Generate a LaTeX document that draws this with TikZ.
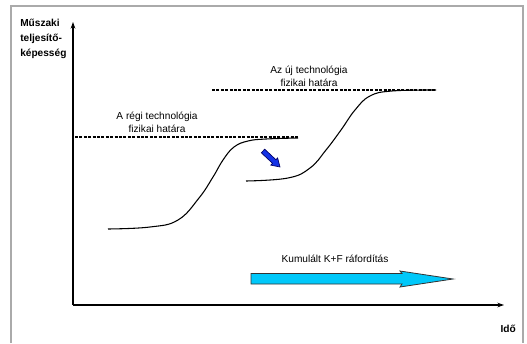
\documentclass[tikz,border=0pt]{standalone}
\usepackage{fontspec}
\setmainfont{Liberation Sans}
\usetikzlibrary{arrows.meta}
\definecolor{framegray}{RGB}{170,170,170}
\definecolor{kfcyan}{RGB}{0,200,250}
\definecolor{shiftblue}{RGB}{20,50,230}
\tikzset{
  lbl/.style={align=center, inner sep=0pt, font=\fontsize{7.6}{9.75}\selectfont},
  axlbl/.style={align=left, inner sep=0pt, font=\bfseries\fontsize{7.6}{11.25}\selectfont},
  axis/.style={line width=1.4pt, -{Stealth[length=5pt, width=3.5pt]}},
  limit/.style={line width=1pt, dash pattern=on 2.2pt off 1.1pt},
  scurve/.style={line width=0.8pt, smooth, tension=0.7}
}
\begin{document}
\begin{tikzpicture}[x=0.75pt, y=-0.75pt]
    \useasboundingbox (0,0) rectangle (527,343);
    % Frame
    \draw[framegray, line width=1.2pt] (11,343) -- (11,6) -- (523,6) -- (523,343);

    % Axes
    \coordinate (origin) at (73,305);
    \coordinate (ytip) at (73,22);
    \coordinate (xtip) at (504,305);
    \draw[axis] (origin) -- (ytip);
    \draw[axis] (origin) -- (xtip);
    \node[axlbl, anchor=north west] (ylab) at (20,19) {Műszaki\\teljesítő-\\képesség};
    \node[axlbl, anchor=east] (xlab) at (516,329) {Idő};

    % Physical limits
    \coordinate (oldA) at (75,137);
    \coordinate (oldB) at (298,137);
    \coordinate (newA) at (212,90);
    \coordinate (newB) at (436,90);
    \draw[limit] (oldA) -- (oldB);
    \draw[limit] (newA) -- (newB);
    \node[lbl] (oldlim) at (157,122) {A régi technológia\\fizikai határa};
    \node[lbl] (newlim) at (309,76) {Az új technológia\\fizikai határa};

    % S-curves
    \draw[scurve] plot coordinates {(108,229) (150,227) (178,220) (199,198) (213,177) (223,160) (234,147) (248,141) (266,139) (298,138)};
    \draw[scurve] plot coordinates {(246,181) (288,178) (310,168) (326,150) (341,130) (355,110) (370,96) (392,91) (436,90)};

    % Shift to the new technology
    \filldraw[fill=shiftblue, draw=blue!40!black, line width=0.5pt]
      (264.7,149.2) -- (275.9,159.7) -- (277.6,157.9) -- (280,167)
      -- (270.8,165.1) -- (272.5,163.3) -- (261.3,152.8) -- cycle;

    % Cumulated R&D effort
    \filldraw[fill=kfcyan, draw=black!80, line width=0.6pt]
      (251,273.5) -- (402,273.5) -- (400,271) -- (453,279)
      -- (400,287) -- (402,284) -- (251,284) -- cycle;
    \node[lbl] (effort) at (335,259) {Kumulált K+F ráfordítás};
\end{tikzpicture}
\end{document}
